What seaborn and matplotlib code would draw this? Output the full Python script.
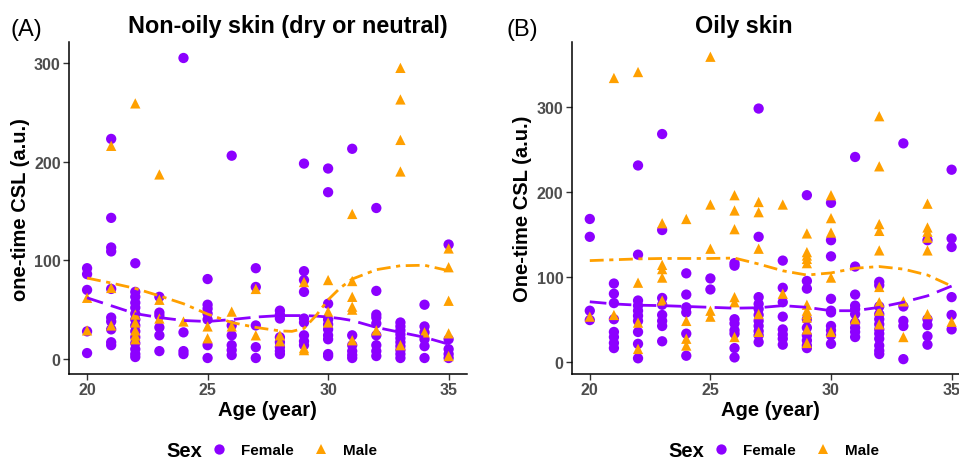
import pandas as pd
import matplotlib
matplotlib.use('Agg')
import matplotlib.pyplot as plt
import seaborn as sns

# point values per age
nonoily_female = {
    20: [92, 86, 70, 28, 6],
    21: [223, 143, 113, 109, 71, 42, 38, 30, 17, 14],
    22: [97, 68, 63, 57, 52, 46, 40, 34, 28, 22, 16, 10, 5, 2],
    23: [63, 47, 44, 32, 24, 8],
    24: [305, 27, 8, 5],
    25: [81, 55, 51, 46, 40, 14, 1],
    26: [206, 34, 24, 14, 9, 4],
    27: [92, 73, 34, 12, 1],
    28: [49, 45, 41, 22, 17, 12, 8, 5],
    29: [198, 89, 80, 68, 41, 37, 24, 18, 14],
    30: [193, 169, 56, 40, 35, 30, 24, 20, 5, 3],
    31: [213, 24, 14, 8, 4, 1],
    32: [153, 69, 45, 42, 36, 24, 14, 8, 3],
    33: [37, 33, 29, 25, 21, 17, 13, 9, 5, 1],
    34: [55, 33, 27, 20, 13, 1],
    35: [116, 20, 10, 5, 1],
}
nonoily_male = {
    20: [62, 29],
    21: [216, 72, 34],
    22: [259, 45, 37, 29, 24, 20],
    23: [187, 60, 41],
    24: [38],
    25: [33, 21],
    26: [48, 33],
    27: [71, 24],
    28: [24, 18],
    29: [78, 11, 9],
    30: [80, 48, 37],
    31: [147, 79, 63, 53, 50, 19],
    32: [29],
    33: [295, 263, 222, 190, 14],
    34: [27],
    35: [112, 93, 59, 26, 3],
}
oily_female = {
    20: [168, 147, 60, 49],
    21: [92, 80, 69, 50, 35, 29, 22, 16],
    22: [231, 126, 72, 66, 60, 54, 48, 35, 21, 4],
    23: [268, 155, 75, 67, 55, 48, 42, 24],
    24: [104, 79, 64, 58, 33, 7],
    25: [98, 85],
    26: [116, 113, 50, 45, 37, 33, 16, 5],
    27: [298, 147, 76, 68, 62, 55, 48, 42, 36, 31, 23],
    28: [119, 87, 70, 53, 38, 32, 27, 20],
    29: [196, 95, 86, 50, 40, 31, 25, 19, 16],
    30: [187, 143, 124, 74, 60, 58, 42, 37, 31, 21],
    31: [241, 112, 79, 66, 62, 56, 46, 40, 35, 29],
    32: [94, 90, 65, 56, 50, 44, 38, 33, 27, 19, 13, 9],
    33: [257, 65, 48, 42, 3],
    34: [143, 50, 43, 30, 20],
    35: [226, 145, 135, 76, 55, 38],
}
oily_male = {
    20: [53],
    21: [334, 55],
    22: [341, 93, 46, 15],
    23: [163, 114, 109, 99, 72],
    24: [168, 48, 27, 19],
    25: [359, 185, 133, 60, 53],
    26: [196, 178, 156, 76, 70, 29],
    27: [188, 176, 133, 56, 35],
    28: [185, 80],
    29: [151, 129, 125, 121, 116, 67, 60, 56, 52, 38, 22],
    30: [196, 169, 152, 99, 35],
    31: [50],
    32: [289, 230, 162, 154, 131, 88, 70, 60, 44],
    33: [71, 29],
    34: [186, 158, 153, 146, 131, 56],
    35: [47],
}

# smoothed trend lines
curve_age = [20, 21, 22, 23, 24, 25, 26, 27, 28, 28.5, 29, 29.5, 30, 30.5, 31, 32, 33, 34, 35]
nonoily_female_fit = [62, 54, 46, 42, 39, 38, 40, 42.5, 44, 44, 44, 43.5, 42.5, 41, 39, 32, 27, 22, 15]
nonoily_male_fit = [82, 77, 71.5, 64, 56, 45.5, 37, 32, 28.5, 28, 31, 44, 60, 72, 81, 90.5, 94.5, 95, 89.5]
oily_age = [20, 21, 22, 23, 24, 25, 26, 27, 28, 29, 30, 31, 32, 33, 34, 35]
oily_female_fit = [70.5, 68, 66.5, 66, 65, 64, 63, 63.5, 66, 64, 60, 60, 64, 70, 77.5, 89]
oily_male_fit = [119, 120, 121, 121.5, 121.5, 121.5, 122, 115, 107, 102, 104.5, 110, 112, 109, 102, 89]

purple = '#8C00FF'
orange = '#FFA000'
pal = {'Female': purple, 'Male': orange}
marks = {'Female': 'o', 'Male': '^'}


def to_frame(female, male):
    rows = []
    for sex, d in (('Female', female), ('Male', male)):
        for age, vals in d.items():
            for v in vals:
                rows.append({'Age': age, 'CSL': v, 'Sex': sex})
    return pd.DataFrame(rows)


sns.set_theme(style='ticks')
plt.rcParams['font.family'] = ['Liberation Sans', 'DejaVu Sans']

W, H = 959, 460
fig = plt.figure(figsize=(W / 100, H / 100), dpi=100)

panels = [
    dict(pos=[69 / W, 1 - 375 / H, 397.7 / W, 331.7 / H], female=nonoily_female, male=nonoily_male,
         cx=curve_age, ff=nonoily_female_fit, mf=nonoily_male_fit, ylim=(-15.2, 320.9),
         ylabel='one-time CSL (a.u.)', title='Non-oily skin (dry or neutral)', tx=287.5,
         tag='(A)', tagx=10, sexx=166),
    dict(pos=[571.7 / W, 1 - 375 / H, 398 / W, 331.7 / H], female=oily_female, male=oily_male,
         cx=oily_age, ff=oily_female_fit, mf=oily_male_fit, ylim=(-14.5, 376),
         ylabel='One-time CSL (a.u.)', title='Oily skin', tx=744,
         tag='(B)', tagx=506, sexx=668),
]

for p in panels:
    ax = fig.add_axes(p['pos'])
    df = to_frame(p['female'], p['male'])
    sns.scatterplot(data=df, x='Age', y='CSL', hue='Sex', style='Sex', palette=pal,
                    markers=marks, s=55, edgecolor='none', linewidth=0, ax=ax, zorder=2)
    sns.lineplot(x=p['cx'], y=p['ff'], color=purple, lw=2.0, ax=ax, zorder=3)
    ax.lines[-1].set_dashes((6, 3))
    sns.lineplot(x=p['cx'], y=p['mf'], color=orange, lw=2.0, ax=ax, zorder=3)
    ax.lines[-1].set_dashes((5, 2, 1.5, 2))

    ax.set_xlim(19.25, 35.75)
    ax.set_ylim(*p['ylim'])
    ax.set_xticks([20, 25, 30, 35])
    ax.set_yticks([0, 100, 200, 300])
    sns.despine(ax=ax)
    for s in ('left', 'bottom'):
        ax.spines[s].set_linewidth(1.1)
        ax.spines[s].set_color('black')
    ax.tick_params(length=4, width=1, color='#333333', labelsize=11.5, pad=2,
                   labelcolor='#4D4D4D')
    for lab in ax.get_xticklabels() + ax.get_yticklabels():
        lab.set_fontweight('bold')
    ax.set_xlabel('Age (year)', fontsize=14.5, fontweight='bold', labelpad=2, color='black')
    ax.set_ylabel(p['ylabel'], fontsize=14.5, fontweight='bold', labelpad=3, color='black')

    sns.move_legend(ax, 'center left', bbox_to_anchor=((p['sexx'] + 24 - p['pos'][0] * W) / (p['pos'][2] * W),
                                                       (375 - 451) / 331.7),
                    ncol=2, title=None, frameon=False, fontsize=11,
                    handletextpad=0.45, columnspacing=0.75, markerscale=1.0)
    for t in ax.get_legend().get_texts():
        t.set_fontweight('bold')
        t.set_color('black')

    fig.text(p['tx'] / W, 1 - 33 / H, p['title'], ha='center', va='baseline',
             fontsize=16.8, fontweight='bold', color='black')
    fig.text(p['tagx'] / W, 1 - 36 / H, p['tag'], ha='left', va='baseline', fontsize=17,
             color='black')
    fig.text(p['sexx'] / W, 1 - 457 / H, 'Sex', ha='left', va='baseline',
             fontsize=14.5, fontweight='bold', color='black')

fig.savefig('out.png', dpi=100)
